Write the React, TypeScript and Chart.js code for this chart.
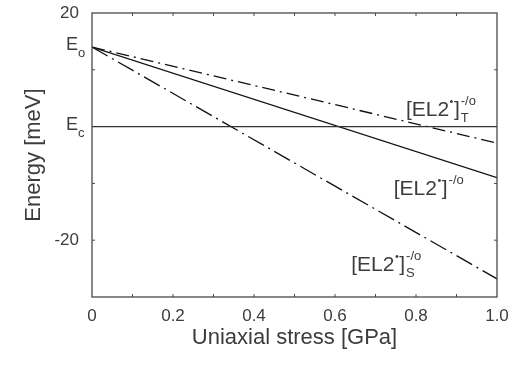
import React, { useEffect, useRef } from "react";
import { Chart, registerables } from "chart.js";
Chart.register(...registerables);

// ---- data ----
const stress = [0, 1.0];
const ecLevel = [0, 0];
const el2Main = [14, -9.0];
const el2T = [14, -2.9];
const el2S = [14, -26.8];
const xTicks = [0, 0.2, 0.4, 0.6, 0.8, 1.0];
const xTickLabels = ["0", "0.2", "0.4", "0.6", "0.8", "1.0"];
const yTicks = [-20, 0, 14, 20];
const yTickLabels = ["-20", "", "", "20"];
const levelLabels = [
  { value: 14, sub: "o" },
  { value: 0, sub: "c" },
];
const curveLabels = [
  { x: 0.775, y: 1.9, sub: "T" },
  { x: 0.745, y: -12.1, sub: "" },
  { x: 0.64, y: -25.4, sub: "S" },
];

const FAM = "'Liberation Sans', Arial, sans-serif";
const TXT = "#3c3c3c";

const pts = (ys: number[]) => stress.map((x, i) => ({ x, y: ys[i] }));

const decorPlugin = {
  id: "decor",
  afterDraw(chart: any) {
    const { ctx, chartArea: a, scales } = chart;
    const xs = scales.x;
    const ys = scales.y;
    ctx.save();
    // frame
    ctx.strokeStyle = "#4a4a4a";
    ctx.lineWidth = 1.3;
    ctx.strokeRect(a.left, a.top, a.right - a.left, a.bottom - a.top);
    // inner ticks
    ctx.lineWidth = 1;
    ctx.beginPath();
    for (let i = 1; i < 10; i++) {
      const px = xs.getPixelForValue(i / 10);
      ctx.moveTo(px, a.top);
      ctx.lineTo(px, a.top + 3);
      ctx.moveTo(px, a.bottom);
      ctx.lineTo(px, a.bottom - 3);
    }
    for (const v of [-20, -10, 10]) {
      const py = ys.getPixelForValue(v);
      ctx.moveTo(a.left, py);
      ctx.lineTo(a.left + 3, py);
      ctx.moveTo(a.right, py);
      ctx.lineTo(a.right - 3, py);
    }
    ctx.stroke();
    // level labels E_O, E_C
    ctx.fillStyle = TXT;
    ctx.textBaseline = "alphabetic";
    ctx.textAlign = "left";
    for (const l of levelLabels) {
      const py = ys.getPixelForValue(l.value);
      ctx.font = `18px ${FAM}`;
      ctx.fillText("E", 66, py + 3);
      ctx.font = `13px ${FAM}`;
      ctx.fillText(l.sub, 78, py + 10);
    }
    // curve labels
    for (const c of curveLabels) {
      let x = xs.getPixelForValue(c.x);
      const y = ys.getPixelForValue(c.y);
      ctx.font = `21px ${FAM}`;
      ctx.fillText("[EL2", x, y);
      x += ctx.measureText("[EL2").width;
      ctx.font = `11px ${FAM}`;
      ctx.fillText("\u2022", x + 0.5, y - 11);
      x += ctx.measureText("\u2022").width + 1;
      ctx.font = `21px ${FAM}`;
      ctx.fillText("]", x, y);
      x += ctx.measureText("]").width + 1;
      ctx.font = `13px ${FAM}`;
      ctx.fillText("-/o", x, y - 11);
      if (c.sub) ctx.fillText(c.sub, x, y + 6);
    }
    ctx.restore();
  },
};

export default function App() {
  const ref = useRef<HTMLCanvasElement | null>(null);
  useEffect(() => {
    if (!ref.current) return;
    const lineStyle = (data: any, dash: number[], w = 1.3) => ({
      data,
      borderColor: "#111",
      borderWidth: w,
      borderDash: dash,
      pointRadius: 0,
      fill: false,
    });
    const chart = new Chart(ref.current, {
      type: "line",
      data: {
        datasets: [
          { label: "E_C", ...lineStyle(pts(ecLevel), [], 1.1), borderColor: "#333" },
          { label: "[EL2]-/o", ...lineStyle(pts(el2Main), []) },
          { label: "[EL2]T-/o", ...lineStyle(pts(el2T), [13, 5, 2, 5]) },
          { label: "[EL2]S-/o", ...lineStyle(pts(el2S), [18, 5, 2, 5]) },
        ],
      },
      options: {
        animation: false,
        responsive: false,
        maintainAspectRatio: false,
        layout: { padding: { left: 0, top: 13, right: 12, bottom: 0 } },
        plugins: { legend: { display: false }, tooltip: { enabled: false } },
        scales: {
          x: {
            type: "linear",
            min: 0,
            max: 1,
            afterBuildTicks: (s: any) => {
              s.ticks = xTicks.map((v) => ({ value: v }));
            },
            afterFit: (s: any) => {
              s.height = 71;
              s.paddingLeft = 0;
              s.paddingRight = 0;
            },
            ticks: {
              padding: 9,
              color: TXT,
              font: { family: FAM, size: 17 },
              maxRotation: 0,
              autoSkip: false,
              callback: (v: any) => {
                const i = xTicks.findIndex((t) => Math.abs(t - v) < 1e-6);
                return i >= 0 ? xTickLabels[i] : "";
              },
            },
            grid: { display: false, drawTicks: false },
            border: { display: false },
            title: {
              display: true,
              text: "Uniaxial stress [GPa]",
              color: TXT,
              font: { family: FAM, size: 22 },
              padding: { top: 0, bottom: 17 },
            },
          },
          y: {
            type: "linear",
            min: -30,
            max: 20,
            afterBuildTicks: (s: any) => {
              s.ticks = yTicks.map((v) => ({ value: v }));
            },
            afterFit: (s: any) => {
              s.width = 92;
              s.paddingTop = 0;
              s.paddingBottom = 0;
            },
            ticks: {
              padding: 13,
              color: TXT,
              font: { family: FAM, size: 17 },
              autoSkip: false,
              callback: (v: any) => {
                const i = yTicks.findIndex((t) => Math.abs(t - v) < 1e-6);
                return i >= 0 ? yTickLabels[i] : "";
              },
            },
            grid: { display: false, drawTicks: false },
            border: { display: false },
            title: {
              display: true,
              text: "Energy [meV]",
              color: TXT,
              font: { family: FAM, size: 22 },
              padding: { top: 21, bottom: 0 },
            },
          },
        },
      },
      plugins: [decorPlugin],
    });
    return () => chart.destroy();
  }, []);
  return (
    <div style={{ position: "fixed", left: 0, top: 0, width: 509, height: 368, background: "#fff" }}>
      <canvas ref={ref} width={509} height={368} style={{ width: 509, height: 368 }} />
    </div>
  );
}
